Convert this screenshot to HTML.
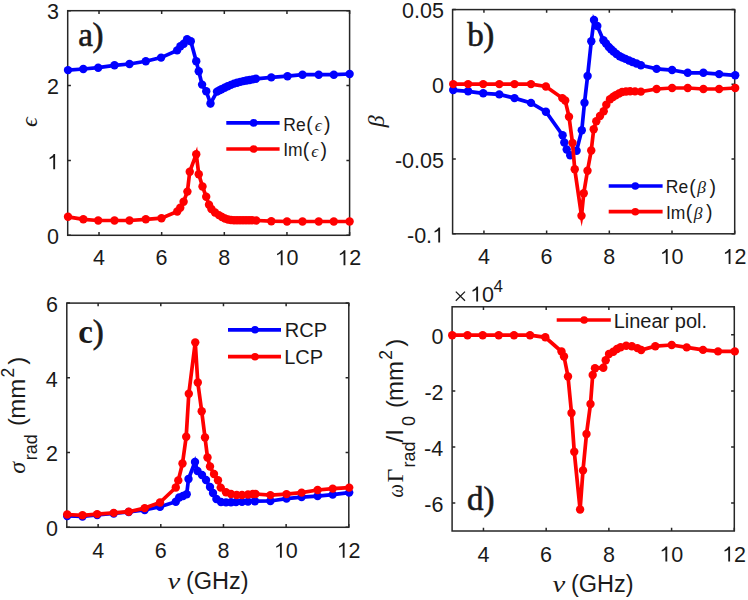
<!DOCTYPE html>
<html><head><meta charset="utf-8"><style>
html,body{margin:0;padding:0;background:#fff;width:748px;height:600px;overflow:hidden}
svg{position:absolute;left:0;top:0}
</style></head><body>
<svg width="748" height="600" viewBox="0 0 748 600">
<rect x="0" y="0" width="748" height="600" fill="#fff"/>
<rect x="67.7" y="10.7" width="281.90" height="224.60" fill="none" stroke="#262626" stroke-width="1.5"/>
<path d="M99.02 235.3V232.10M99.02 10.7V13.90M161.67 235.3V232.10M161.67 10.7V13.90M224.31 235.3V232.10M224.31 10.7V13.90M286.96 235.3V232.10M286.96 10.7V13.90M349.60 235.3V232.10M349.60 10.7V13.90M67.7 235.30H70.90M349.6 235.30H346.40M67.7 160.43H70.90M349.6 160.43H346.40M67.7 85.57H70.90M349.6 85.57H346.40M67.7 10.70H70.90M349.6 10.70H346.40" stroke="#262626" stroke-width="1.5" fill="none"/>
<rect x="452.6" y="9.6" width="282.10" height="224.20" fill="none" stroke="#262626" stroke-width="1.5"/>
<path d="M483.94 233.8V230.60M483.94 9.6V12.80M546.63 233.8V230.60M546.63 9.6V12.80M609.32 233.8V230.60M609.32 9.6V12.80M672.01 233.8V230.60M672.01 9.6V12.80M734.70 233.8V230.60M734.70 9.6V12.80M452.6 9.60H455.80M734.7 9.60H731.50M452.6 84.33H455.80M734.7 84.33H731.50M452.6 159.07H455.80M734.7 159.07H731.50M452.6 233.80H455.80M734.7 233.80H731.50" stroke="#262626" stroke-width="1.5" fill="none"/>
<rect x="66.8" y="303.1" width="282.00" height="224.20" fill="none" stroke="#262626" stroke-width="1.5"/>
<path d="M98.13 527.3V524.10M98.13 303.1V306.30M160.80 527.3V524.10M160.80 303.1V306.30M223.47 527.3V524.10M223.47 303.1V306.30M286.13 527.3V524.10M286.13 303.1V306.30M348.80 527.3V524.10M348.80 303.1V306.30M66.8 527.30H70.00M348.8 527.30H345.60M66.8 452.57H70.00M348.8 452.57H345.60M66.8 377.83H70.00M348.8 377.83H345.60M66.8 303.10H70.00M348.8 303.10H345.60" stroke="#262626" stroke-width="1.5" fill="none"/>
<rect x="452.1" y="306.8" width="282.20" height="224.20" fill="none" stroke="#262626" stroke-width="1.5"/>
<path d="M483.46 531.0V527.80M483.46 306.8V310.00M546.17 531.0V527.80M546.17 306.8V310.00M608.88 531.0V527.80M608.88 306.8V310.00M671.59 531.0V527.80M671.59 306.8V310.00M734.30 531.0V527.80M734.30 306.8V310.00M452.1 334.83H455.30M734.3 334.83H731.10M452.1 390.88H455.30M734.3 390.88H731.10M452.1 446.93H455.30M734.3 446.93H731.10M452.1 502.98H455.30M734.3 502.98H731.10" stroke="#262626" stroke-width="1.5" fill="none"/>
<polyline points="68.00,70.10 83.30,69.00 98.20,67.70 114.50,65.30 129.50,64.00 145.80,61.30 161.10,57.60 177.10,50.40 180.40,46.30 183.75,43.75 187.10,39.20 190.80,41.25 196.25,61.25 198.75,71.25 202.10,84.60 206.25,91.25 210.50,103.50 217.00,91.60 219.30,90.40 221.50,89.20 224.60,87.70 227.70,86.30 230.90,84.90 234.00,83.60 237.10,82.80 240.30,81.90 243.40,81.10 246.50,80.50 249.60,80.00 252.80,79.40 255.90,78.80 271.30,77.40 287.50,76.20 302.50,74.70 318.70,74.70 333.80,74.70 349.60,74.00" fill="none" stroke="#0000ff" stroke-width="3.7" stroke-linejoin="miter" stroke-miterlimit="6"/>
<g fill="#0000ff"><circle cx="68.00" cy="70.10" r="4.2"/><circle cx="83.30" cy="69.00" r="4.2"/><circle cx="98.20" cy="67.70" r="4.2"/><circle cx="114.50" cy="65.30" r="4.2"/><circle cx="129.50" cy="64.00" r="4.2"/><circle cx="145.80" cy="61.30" r="4.2"/><circle cx="161.10" cy="57.60" r="4.2"/><circle cx="177.10" cy="50.40" r="4.2"/><circle cx="180.40" cy="46.30" r="4.2"/><circle cx="183.75" cy="43.75" r="4.2"/><circle cx="187.10" cy="39.20" r="4.2"/><circle cx="190.80" cy="41.25" r="4.2"/><circle cx="196.25" cy="61.25" r="4.2"/><circle cx="198.75" cy="71.25" r="4.2"/><circle cx="202.10" cy="84.60" r="4.2"/><circle cx="206.25" cy="91.25" r="4.2"/><circle cx="210.50" cy="103.50" r="4.2"/><circle cx="217.00" cy="91.60" r="4.2"/><circle cx="219.30" cy="90.40" r="4.2"/><circle cx="221.50" cy="89.20" r="4.2"/><circle cx="224.60" cy="87.70" r="4.2"/><circle cx="227.70" cy="86.30" r="4.2"/><circle cx="230.90" cy="84.90" r="4.2"/><circle cx="234.00" cy="83.60" r="4.2"/><circle cx="237.10" cy="82.80" r="4.2"/><circle cx="240.30" cy="81.90" r="4.2"/><circle cx="243.40" cy="81.10" r="4.2"/><circle cx="246.50" cy="80.50" r="4.2"/><circle cx="249.60" cy="80.00" r="4.2"/><circle cx="252.80" cy="79.40" r="4.2"/><circle cx="255.90" cy="78.80" r="4.2"/><circle cx="271.30" cy="77.40" r="4.2"/><circle cx="287.50" cy="76.20" r="4.2"/><circle cx="302.50" cy="74.70" r="4.2"/><circle cx="318.70" cy="74.70" r="4.2"/><circle cx="333.80" cy="74.70" r="4.2"/><circle cx="349.60" cy="74.00" r="4.2"/></g>
<polyline points="68.00,216.80 83.30,219.30 98.20,220.50 114.50,220.50 129.50,220.50 145.80,219.30 161.50,218.20 177.25,211.50 180.25,207.75 183.60,201.75 187.40,191.60 189.75,171.70 196.25,154.20 198.75,174.20 202.50,186.50 206.20,196.80 209.00,204.80 211.40,209.00 215.00,212.50 218.90,215.10 222.00,217.00 225.00,218.50 228.00,219.50 231.00,220.00 234.00,220.20 237.00,220.30 240.00,220.30 243.00,220.30 246.00,220.30 249.00,220.30 252.00,220.30 256.20,220.50 271.30,221.20 287.00,221.50 302.50,221.50 318.70,221.50 333.80,221.50 349.60,221.50" fill="none" stroke="#ff0000" stroke-width="3.7" stroke-linejoin="miter" stroke-miterlimit="6"/>
<g fill="#ff0000"><circle cx="68.00" cy="216.80" r="4.2"/><circle cx="83.30" cy="219.30" r="4.2"/><circle cx="98.20" cy="220.50" r="4.2"/><circle cx="114.50" cy="220.50" r="4.2"/><circle cx="129.50" cy="220.50" r="4.2"/><circle cx="145.80" cy="219.30" r="4.2"/><circle cx="161.50" cy="218.20" r="4.2"/><circle cx="177.25" cy="211.50" r="4.2"/><circle cx="180.25" cy="207.75" r="4.2"/><circle cx="183.60" cy="201.75" r="4.2"/><circle cx="187.40" cy="191.60" r="4.2"/><circle cx="189.75" cy="171.70" r="4.2"/><circle cx="196.25" cy="154.20" r="4.2"/><circle cx="198.75" cy="174.20" r="4.2"/><circle cx="202.50" cy="186.50" r="4.2"/><circle cx="206.20" cy="196.80" r="4.2"/><circle cx="209.00" cy="204.80" r="4.2"/><circle cx="211.40" cy="209.00" r="4.2"/><circle cx="215.00" cy="212.50" r="4.2"/><circle cx="218.90" cy="215.10" r="4.2"/><circle cx="222.00" cy="217.00" r="4.2"/><circle cx="225.00" cy="218.50" r="4.2"/><circle cx="228.00" cy="219.50" r="4.2"/><circle cx="231.00" cy="220.00" r="4.2"/><circle cx="234.00" cy="220.20" r="4.2"/><circle cx="237.00" cy="220.30" r="4.2"/><circle cx="240.00" cy="220.30" r="4.2"/><circle cx="243.00" cy="220.30" r="4.2"/><circle cx="246.00" cy="220.30" r="4.2"/><circle cx="249.00" cy="220.30" r="4.2"/><circle cx="252.00" cy="220.30" r="4.2"/><circle cx="256.20" cy="220.50" r="4.2"/><circle cx="271.30" cy="221.20" r="4.2"/><circle cx="287.00" cy="221.50" r="4.2"/><circle cx="302.50" cy="221.50" r="4.2"/><circle cx="318.70" cy="221.50" r="4.2"/><circle cx="333.80" cy="221.50" r="4.2"/><circle cx="349.60" cy="221.50" r="4.2"/></g>
<text x="46.88" y="244.00" font-family="Liberation Sans" font-size="21.5" fill="#1a1a1a" >0</text>
<path d="M53.26 169.13L55.11 169.13L55.11 154.08L53.69 154.08L52.47 155.70L50.96 156.84L49.57 157.63L49.57 159.24L51.18 158.56L53.26 157.27Z" fill="#1a1a1a"/>
<text x="47.12" y="94.27" font-family="Liberation Sans" font-size="21.5" fill="#1a1a1a" >2</text>
<text x="46.99" y="19.40" font-family="Liberation Sans" font-size="21.5" fill="#1a1a1a" >3</text>
<text x="93.11" y="265.20" font-family="Liberation Sans" font-size="21.5" fill="#1a1a1a" >4</text>
<text x="155.61" y="265.20" font-family="Liberation Sans" font-size="21.5" fill="#1a1a1a" >6</text>
<text x="218.33" y="265.20" font-family="Liberation Sans" font-size="21.5" fill="#1a1a1a" >8</text>
<path d="M280.77 265.20L282.62 265.20L282.62 250.15L281.20 250.15L279.97 251.76L278.47 252.90L277.07 253.70L277.07 255.31L278.68 254.62L280.77 253.33Z" fill="#1a1a1a"/><text x="286.56" y="265.20" font-family="Liberation Sans" font-size="21.5" fill="#1a1a1a">0</text>
<path d="M343.54 265.20L345.38 265.20L345.38 250.15L343.97 250.15L342.74 251.76L341.23 252.90L339.84 253.70L339.84 255.31L341.45 254.62L343.54 253.33Z" fill="#1a1a1a"/><text x="349.32" y="265.20" font-family="Liberation Sans" font-size="21.5" fill="#1a1a1a">2</text>
<text x="78.24" y="45.60" font-family="Liberation Serif" font-size="33" fill="#1a1a1a" stroke="#1a1a1a" stroke-width="0.6">a</text>
<text x="92.54" y="45.60" font-family="Liberation Serif" font-size="33" fill="#1a1a1a" stroke="#1a1a1a" stroke-width="0.6">)</text>
<g transform="translate(37.2,126.3) rotate(-90)"><text x="-0.71" y="0.00" font-family="Liberation Serif" font-style="italic" font-size="24" fill="#1a1a1a" >ϵ</text></g>
<line x1="226.3" y1="122.9" x2="279.6" y2="122.9" stroke="#0000ff" stroke-width="3.7"/><circle cx="253.6" cy="122.9" r="3.8" fill="#0000ff"/>
<line x1="226.3" y1="149.0" x2="279.6" y2="149.0" stroke="#ff0000" stroke-width="3.7"/><circle cx="253.6" cy="149.0" r="3.8" fill="#ff0000"/>
<text x="283.36" y="130.60" font-family="Liberation Sans" font-size="17.5" fill="#1a1a1a" >Re</text>
<text x="283.19" y="156.30" font-family="Liberation Sans" font-size="17.5" fill="#1a1a1a" >Im</text>
<text x="306.29" y="131.00" font-family="Liberation Sans" font-size="19.5" fill="#1a1a1a" >(</text>
<text x="314.78" y="130.60" font-family="Liberation Serif" font-style="italic" font-size="17.5" fill="#1a1a1a" >ϵ</text>
<text x="323.89" y="131.00" font-family="Liberation Sans" font-size="19.5" fill="#1a1a1a" >)</text>
<text x="302.79" y="157.00" font-family="Liberation Sans" font-size="19.5" fill="#1a1a1a" >(</text>
<text x="311.28" y="156.60" font-family="Liberation Serif" font-style="italic" font-size="17.5" fill="#1a1a1a" >ϵ</text>
<text x="320.39" y="157.00" font-family="Liberation Sans" font-size="19.5" fill="#1a1a1a" >)</text>
<polyline points="453.20,90.05 468.10,91.30 483.20,93.30 499.30,94.40 514.50,98.10 531.00,102.90 545.90,111.70 562.60,135.20 564.30,142.50 566.70,149.50 570.20,155.30 576.60,150.70 581.80,130.25 584.50,102.70 587.60,76.00 591.30,41.30 594.00,20.00 597.30,26.00 603.40,40.30 606.00,43.50 608.80,47.00 611.00,49.30 613.50,51.50 616.50,54.00 619.70,56.20 622.50,57.60 625.50,58.90 629.00,60.50 632.50,62.00 636.50,63.50 640.90,65.20 656.60,68.90 672.10,70.05 687.70,72.80 703.40,72.80 719.10,74.10 735.20,75.30" fill="none" stroke="#0000ff" stroke-width="3.7" stroke-linejoin="miter" stroke-miterlimit="6"/>
<g fill="#0000ff"><circle cx="453.20" cy="90.05" r="4.2"/><circle cx="468.10" cy="91.30" r="4.2"/><circle cx="483.20" cy="93.30" r="4.2"/><circle cx="499.30" cy="94.40" r="4.2"/><circle cx="514.50" cy="98.10" r="4.2"/><circle cx="531.00" cy="102.90" r="4.2"/><circle cx="545.90" cy="111.70" r="4.2"/><circle cx="562.60" cy="135.20" r="4.2"/><circle cx="564.30" cy="142.50" r="4.2"/><circle cx="566.70" cy="149.50" r="4.2"/><circle cx="570.20" cy="155.30" r="4.2"/><circle cx="576.60" cy="150.70" r="4.2"/><circle cx="581.80" cy="130.25" r="4.2"/><circle cx="584.50" cy="102.70" r="4.2"/><circle cx="587.60" cy="76.00" r="4.2"/><circle cx="591.30" cy="41.30" r="4.2"/><circle cx="594.00" cy="20.00" r="4.2"/><circle cx="597.30" cy="26.00" r="4.2"/><circle cx="603.40" cy="40.30" r="4.2"/><circle cx="606.00" cy="43.50" r="4.2"/><circle cx="608.80" cy="47.00" r="4.2"/><circle cx="611.00" cy="49.30" r="4.2"/><circle cx="613.50" cy="51.50" r="4.2"/><circle cx="616.50" cy="54.00" r="4.2"/><circle cx="619.70" cy="56.20" r="4.2"/><circle cx="622.50" cy="57.60" r="4.2"/><circle cx="625.50" cy="58.90" r="4.2"/><circle cx="629.00" cy="60.50" r="4.2"/><circle cx="632.50" cy="62.00" r="4.2"/><circle cx="636.50" cy="63.50" r="4.2"/><circle cx="640.90" cy="65.20" r="4.2"/><circle cx="656.60" cy="68.90" r="4.2"/><circle cx="672.10" cy="70.05" r="4.2"/><circle cx="687.70" cy="72.80" r="4.2"/><circle cx="703.40" cy="72.80" r="4.2"/><circle cx="719.10" cy="74.10" r="4.2"/><circle cx="735.20" cy="75.30" r="4.2"/></g>
<polyline points="453.20,84.10 468.10,84.10 483.20,84.10 499.30,84.10 514.50,84.10 531.00,84.10 545.90,86.50 562.30,98.10 565.20,100.50 569.00,116.70 572.50,143.00 574.75,169.25 581.50,215.75 583.75,193.25 587.50,170.75 591.25,150.50 593.70,129.30 596.30,121.30 600.00,116.00 603.70,111.30 606.30,104.70 610.00,99.20 613.00,97.00 615.70,95.20 619.00,93.50 622.10,92.00 626.00,91.50 630.10,91.20 635.00,91.40 640.90,91.60 656.60,89.00 672.10,88.00 687.70,88.00 703.40,89.00 719.10,89.00 735.20,88.00" fill="none" stroke="#ff0000" stroke-width="3.7" stroke-linejoin="miter" stroke-miterlimit="6"/>
<g fill="#ff0000"><circle cx="453.20" cy="84.10" r="4.2"/><circle cx="468.10" cy="84.10" r="4.2"/><circle cx="483.20" cy="84.10" r="4.2"/><circle cx="499.30" cy="84.10" r="4.2"/><circle cx="514.50" cy="84.10" r="4.2"/><circle cx="531.00" cy="84.10" r="4.2"/><circle cx="545.90" cy="86.50" r="4.2"/><circle cx="562.30" cy="98.10" r="4.2"/><circle cx="565.20" cy="100.50" r="4.2"/><circle cx="569.00" cy="116.70" r="4.2"/><circle cx="572.50" cy="143.00" r="4.2"/><circle cx="574.75" cy="169.25" r="4.2"/><circle cx="581.50" cy="215.75" r="4.2"/><circle cx="583.75" cy="193.25" r="4.2"/><circle cx="587.50" cy="170.75" r="4.2"/><circle cx="591.25" cy="150.50" r="4.2"/><circle cx="593.70" cy="129.30" r="4.2"/><circle cx="596.30" cy="121.30" r="4.2"/><circle cx="600.00" cy="116.00" r="4.2"/><circle cx="603.70" cy="111.30" r="4.2"/><circle cx="606.30" cy="104.70" r="4.2"/><circle cx="610.00" cy="99.20" r="4.2"/><circle cx="613.00" cy="97.00" r="4.2"/><circle cx="615.70" cy="95.20" r="4.2"/><circle cx="619.00" cy="93.50" r="4.2"/><circle cx="622.10" cy="92.00" r="4.2"/><circle cx="626.00" cy="91.50" r="4.2"/><circle cx="630.10" cy="91.20" r="4.2"/><circle cx="635.00" cy="91.40" r="4.2"/><circle cx="640.90" cy="91.60" r="4.2"/><circle cx="656.60" cy="89.00" r="4.2"/><circle cx="672.10" cy="88.00" r="4.2"/><circle cx="687.70" cy="88.00" r="4.2"/><circle cx="703.40" cy="89.00" r="4.2"/><circle cx="719.10" cy="89.00" r="4.2"/><circle cx="735.20" cy="88.00" r="4.2"/></g>
<path d="M579.9 218 L581.7 226.5 L583.2 218 Z" fill="#ff0000"/>
<text x="402.06" y="18.30" font-family="Liberation Sans" font-size="21.5" fill="#1a1a1a" >0.05</text>
<text x="431.88" y="93.03" font-family="Liberation Sans" font-size="21.5" fill="#1a1a1a" >0</text>
<text x="394.90" y="167.77" font-family="Liberation Sans" font-size="21.5" fill="#1a1a1a" >-0.05</text>
<text x="407.00" y="242.50" font-family="Liberation Sans" font-size="21.5" fill="#1a1a1a">-</text><text x="414.16" y="242.50" font-family="Liberation Sans" font-size="21.5" fill="#1a1a1a">0</text><text x="426.12" y="242.50" font-family="Liberation Sans" font-size="21.5" fill="#1a1a1a">.</text><path d="M438.26 242.50L440.11 242.50L440.11 227.45L438.69 227.45L437.47 229.06L435.96 230.20L434.57 231.00L434.57 232.61L436.18 231.92L438.26 230.63Z" fill="#1a1a1a"/>
<text x="478.03" y="264.00" font-family="Liberation Sans" font-size="21.5" fill="#1a1a1a" >4</text>
<text x="540.58" y="264.00" font-family="Liberation Sans" font-size="21.5" fill="#1a1a1a" >6</text>
<text x="603.34" y="264.00" font-family="Liberation Sans" font-size="21.5" fill="#1a1a1a" >8</text>
<path d="M665.83 264.00L667.67 264.00L667.67 248.95L666.26 248.95L665.03 250.56L663.52 251.70L662.13 252.50L662.13 254.11L663.74 253.42L665.83 252.13Z" fill="#1a1a1a"/><text x="671.61" y="264.00" font-family="Liberation Sans" font-size="21.5" fill="#1a1a1a">0</text>
<path d="M728.64 264.00L730.48 264.00L730.48 248.95L729.07 248.95L727.84 250.56L726.33 251.70L724.94 252.50L724.94 254.11L726.55 253.42L728.64 252.13Z" fill="#1a1a1a"/><text x="734.42" y="264.00" font-family="Liberation Sans" font-size="21.5" fill="#1a1a1a">2</text>
<text x="467.20" y="46.30" font-family="Liberation Serif" font-size="33" fill="#1a1a1a" stroke="#1a1a1a" stroke-width="0.6">b</text>
<text x="483.14" y="46.30" font-family="Liberation Serif" font-size="33" fill="#1a1a1a" stroke="#1a1a1a" stroke-width="0.6">)</text>
<g transform="translate(384.2,127.7) rotate(-90)"><text x="0.39" y="0.00" font-family="Liberation Serif" font-style="italic" font-size="24" fill="#1a1a1a" >β</text></g>
<line x1="608.7" y1="186.0" x2="662.6" y2="186.0" stroke="#0000ff" stroke-width="3.7"/><circle cx="635.3" cy="186.0" r="3.8" fill="#0000ff"/>
<line x1="608.7" y1="211.7" x2="662.6" y2="211.7" stroke="#ff0000" stroke-width="3.7"/><circle cx="635.3" cy="211.7" r="3.8" fill="#ff0000"/>
<text x="665.86" y="193.30" font-family="Liberation Sans" font-size="17.5" fill="#1a1a1a" >Re</text>
<text x="665.89" y="218.50" font-family="Liberation Sans" font-size="17.5" fill="#1a1a1a" >Im</text>
<text x="689.19" y="193.80" font-family="Liberation Sans" font-size="19.5" fill="#1a1a1a" >(</text>
<text x="697.18" y="193.30" font-family="Liberation Serif" font-style="italic" font-size="17.5" fill="#1a1a1a" >β</text>
<text x="709.49" y="193.80" font-family="Liberation Sans" font-size="19.5" fill="#1a1a1a" >)</text>
<text x="685.69" y="219.00" font-family="Liberation Sans" font-size="19.5" fill="#1a1a1a" >(</text>
<text x="693.68" y="218.50" font-family="Liberation Serif" font-style="italic" font-size="17.5" fill="#1a1a1a" >β</text>
<text x="705.99" y="219.00" font-family="Liberation Sans" font-size="19.5" fill="#1a1a1a" >)</text>
<polyline points="67.20,516.00 82.50,516.50 97.20,515.00 113.70,513.50 128.70,512.00 144.70,510.00 160.00,506.70 175.80,501.70 179.20,497.50 183.00,496.00 186.70,494.20 188.50,479.00 195.00,462.00 197.50,471.00 202.00,475.00 206.00,480.00 210.00,487.00 213.00,493.00 216.40,499.00 221.00,502.00 226.00,502.40 231.00,502.30 236.00,502.10 242.00,501.90 248.00,501.60 254.90,501.20 270.40,501.00 286.50,498.60 301.60,497.10 317.60,496.10 332.70,494.60 349.20,492.60" fill="none" stroke="#0000ff" stroke-width="3.7" stroke-linejoin="miter" stroke-miterlimit="6"/>
<g fill="#0000ff"><circle cx="67.20" cy="516.00" r="4.2"/><circle cx="82.50" cy="516.50" r="4.2"/><circle cx="97.20" cy="515.00" r="4.2"/><circle cx="113.70" cy="513.50" r="4.2"/><circle cx="128.70" cy="512.00" r="4.2"/><circle cx="144.70" cy="510.00" r="4.2"/><circle cx="160.00" cy="506.70" r="4.2"/><circle cx="175.80" cy="501.70" r="4.2"/><circle cx="179.20" cy="497.50" r="4.2"/><circle cx="183.00" cy="496.00" r="4.2"/><circle cx="186.70" cy="494.20" r="4.2"/><circle cx="188.50" cy="479.00" r="4.2"/><circle cx="195.00" cy="462.00" r="4.2"/><circle cx="197.50" cy="471.00" r="4.2"/><circle cx="202.00" cy="475.00" r="4.2"/><circle cx="206.00" cy="480.00" r="4.2"/><circle cx="210.00" cy="487.00" r="4.2"/><circle cx="213.00" cy="493.00" r="4.2"/><circle cx="216.40" cy="499.00" r="4.2"/><circle cx="221.00" cy="502.00" r="4.2"/><circle cx="226.00" cy="502.40" r="4.2"/><circle cx="231.00" cy="502.30" r="4.2"/><circle cx="236.00" cy="502.10" r="4.2"/><circle cx="242.00" cy="501.90" r="4.2"/><circle cx="248.00" cy="501.60" r="4.2"/><circle cx="254.90" cy="501.20" r="4.2"/><circle cx="270.40" cy="501.00" r="4.2"/><circle cx="286.50" cy="498.60" r="4.2"/><circle cx="301.60" cy="497.10" r="4.2"/><circle cx="317.60" cy="496.10" r="4.2"/><circle cx="332.70" cy="494.60" r="4.2"/><circle cx="349.20" cy="492.60" r="4.2"/></g>
<polyline points="67.20,514.50 82.50,515.30 97.20,514.10 113.70,512.90 128.70,511.70 144.70,508.10 160.00,502.50 175.80,487.50 178.30,480.40 182.50,463.50 186.20,436.70 188.80,393.80 195.25,342.35 197.80,382.50 201.70,411.30 205.00,437.50 207.50,457.50 210.00,466.50 214.00,474.00 218.00,480.20 220.70,487.60 226.00,492.20 231.00,494.00 236.70,495.00 242.00,495.00 248.00,494.50 252.80,494.00 255.50,494.00 270.40,495.10 286.50,494.10 301.60,492.60 317.60,490.00 332.70,488.60 349.20,487.60" fill="none" stroke="#ff0000" stroke-width="3.7" stroke-linejoin="miter" stroke-miterlimit="6"/>
<g fill="#ff0000"><circle cx="67.20" cy="514.50" r="4.2"/><circle cx="82.50" cy="515.30" r="4.2"/><circle cx="97.20" cy="514.10" r="4.2"/><circle cx="113.70" cy="512.90" r="4.2"/><circle cx="128.70" cy="511.70" r="4.2"/><circle cx="144.70" cy="508.10" r="4.2"/><circle cx="160.00" cy="502.50" r="4.2"/><circle cx="175.80" cy="487.50" r="4.2"/><circle cx="178.30" cy="480.40" r="4.2"/><circle cx="182.50" cy="463.50" r="4.2"/><circle cx="186.20" cy="436.70" r="4.2"/><circle cx="188.80" cy="393.80" r="4.2"/><circle cx="195.25" cy="342.35" r="4.2"/><circle cx="197.80" cy="382.50" r="4.2"/><circle cx="201.70" cy="411.30" r="4.2"/><circle cx="205.00" cy="437.50" r="4.2"/><circle cx="207.50" cy="457.50" r="4.2"/><circle cx="210.00" cy="466.50" r="4.2"/><circle cx="214.00" cy="474.00" r="4.2"/><circle cx="218.00" cy="480.20" r="4.2"/><circle cx="220.70" cy="487.60" r="4.2"/><circle cx="226.00" cy="492.20" r="4.2"/><circle cx="231.00" cy="494.00" r="4.2"/><circle cx="236.70" cy="495.00" r="4.2"/><circle cx="242.00" cy="495.00" r="4.2"/><circle cx="248.00" cy="494.50" r="4.2"/><circle cx="252.80" cy="494.00" r="4.2"/><circle cx="255.50" cy="494.00" r="4.2"/><circle cx="270.40" cy="495.10" r="4.2"/><circle cx="286.50" cy="494.10" r="4.2"/><circle cx="301.60" cy="492.60" r="4.2"/><circle cx="317.60" cy="490.00" r="4.2"/><circle cx="332.70" cy="488.60" r="4.2"/><circle cx="349.20" cy="487.60" r="4.2"/></g>
<text x="45.88" y="536.00" font-family="Liberation Sans" font-size="21.5" fill="#1a1a1a" >0</text>
<text x="46.12" y="461.27" font-family="Liberation Sans" font-size="21.5" fill="#1a1a1a" >2</text>
<text x="45.67" y="386.53" font-family="Liberation Sans" font-size="21.5" fill="#1a1a1a" >4</text>
<text x="45.99" y="311.80" font-family="Liberation Sans" font-size="21.5" fill="#1a1a1a" >6</text>
<text x="92.22" y="557.70" font-family="Liberation Sans" font-size="21.5" fill="#1a1a1a" >4</text>
<text x="154.75" y="557.70" font-family="Liberation Sans" font-size="21.5" fill="#1a1a1a" >6</text>
<text x="217.49" y="557.70" font-family="Liberation Sans" font-size="21.5" fill="#1a1a1a" >8</text>
<path d="M279.95 557.70L281.80 557.70L281.80 542.65L280.38 542.65L279.15 544.26L277.65 545.40L276.25 546.20L276.25 547.81L277.86 547.12L279.95 545.83Z" fill="#1a1a1a"/><text x="285.73" y="557.70" font-family="Liberation Sans" font-size="21.5" fill="#1a1a1a">0</text>
<path d="M342.74 557.70L344.58 557.70L344.58 542.65L343.17 542.65L341.94 544.26L340.43 545.40L339.04 546.20L339.04 547.81L340.65 547.12L342.74 545.83Z" fill="#1a1a1a"/><text x="348.52" y="557.70" font-family="Liberation Sans" font-size="21.5" fill="#1a1a1a">2</text>
<text x="78.27" y="342.50" font-family="Liberation Serif" font-weight="bold" font-size="33" fill="#1a1a1a" >c</text>
<text x="92.84" y="342.50" font-family="Liberation Serif" font-size="33" fill="#1a1a1a" stroke="#1a1a1a" stroke-width="0.6">)</text>
<line x1="228" y1="329.8" x2="281" y2="329.8" stroke="#0000ff" stroke-width="3.7"/><circle cx="255" cy="329.8" r="3.8" fill="#0000ff"/>
<line x1="228" y1="356.7" x2="281" y2="356.7" stroke="#ff0000" stroke-width="3.7"/><circle cx="255" cy="356.7" r="3.8" fill="#ff0000"/>
<text x="284.76" y="337.30" font-family="Liberation Sans" font-size="20" fill="#1a1a1a" >RCP</text>
<text x="284.16" y="364.00" font-family="Liberation Sans" font-size="20" fill="#1a1a1a" >LCP</text>
<text transform="translate(168.00,588.70) scale(1.22,1)" x="-0.32" y="0" font-family="Liberation Serif" font-style="italic" font-size="23.5" fill="#1a1a1a">ν</text>
<text x="185.94" y="588.70" font-family="Liberation Sans" font-size="23.5" fill="#1a1a1a" >(GHz)</text>
<text transform="translate(553.00,592.40) scale(1.22,1)" x="-0.32" y="0" font-family="Liberation Serif" font-style="italic" font-size="23.5" fill="#1a1a1a">ν</text>
<text x="570.94" y="592.40" font-family="Liberation Sans" font-size="23.5" fill="#1a1a1a" >(GHz)</text>
<g transform="translate(25.3,473.5) rotate(-90)"><text x="-0.21" y="0.00" font-family="Liberation Serif" font-style="italic" font-size="24" fill="#1a1a1a" >σ</text><text x="13.30" y="12.00" font-family="Liberation Sans" font-size="18" fill="#1a1a1a" >rad</text><text x="47.51" y="0.00" font-family="Liberation Sans" font-size="24" fill="#1a1a1a" >(</text><text x="54.71" y="0.00" font-family="Liberation Sans" font-size="24" fill="#1a1a1a" >mm</text><text x="96.12" y="-11.20" font-family="Liberation Sans" font-size="17.5" fill="#1a1a1a" >2</text><text x="108.86" y="0.00" font-family="Liberation Sans" font-size="24" fill="#1a1a1a" >)</text></g>
<polyline points="452.20,335.20 467.50,335.20 482.70,335.20 498.70,335.20 514.00,335.20 530.00,335.20 545.30,337.30 561.50,351.50 564.00,356.50 568.00,376.50 571.50,413.00 574.25,451.75 580.10,509.50 583.00,470.40 586.50,434.00 590.50,404.00 592.70,375.00 595.00,368.30 603.30,367.70 605.70,360.30 609.00,354.00 613.30,351.70 617.00,349.00 620.60,347.20 626.20,345.80 631.80,346.20 637.40,348.10 641.20,350.00 655.30,346.20 671.70,345.00 686.70,347.40 703.00,349.90 718.00,351.40 734.80,351.40" fill="none" stroke="#ff0000" stroke-width="3.7" stroke-linejoin="miter" stroke-miterlimit="6"/>
<g fill="#ff0000"><circle cx="452.20" cy="335.20" r="4.2"/><circle cx="467.50" cy="335.20" r="4.2"/><circle cx="482.70" cy="335.20" r="4.2"/><circle cx="498.70" cy="335.20" r="4.2"/><circle cx="514.00" cy="335.20" r="4.2"/><circle cx="530.00" cy="335.20" r="4.2"/><circle cx="545.30" cy="337.30" r="4.2"/><circle cx="561.50" cy="351.50" r="4.2"/><circle cx="564.00" cy="356.50" r="4.2"/><circle cx="568.00" cy="376.50" r="4.2"/><circle cx="571.50" cy="413.00" r="4.2"/><circle cx="574.25" cy="451.75" r="4.2"/><circle cx="580.10" cy="509.50" r="4.2"/><circle cx="583.00" cy="470.40" r="4.2"/><circle cx="586.50" cy="434.00" r="4.2"/><circle cx="590.50" cy="404.00" r="4.2"/><circle cx="592.70" cy="375.00" r="4.2"/><circle cx="595.00" cy="368.30" r="4.2"/><circle cx="603.30" cy="367.70" r="4.2"/><circle cx="605.70" cy="360.30" r="4.2"/><circle cx="609.00" cy="354.00" r="4.2"/><circle cx="613.30" cy="351.70" r="4.2"/><circle cx="617.00" cy="349.00" r="4.2"/><circle cx="620.60" cy="347.20" r="4.2"/><circle cx="626.20" cy="345.80" r="4.2"/><circle cx="631.80" cy="346.20" r="4.2"/><circle cx="637.40" cy="348.10" r="4.2"/><circle cx="641.20" cy="350.00" r="4.2"/><circle cx="655.30" cy="346.20" r="4.2"/><circle cx="671.70" cy="345.00" r="4.2"/><circle cx="686.70" cy="347.40" r="4.2"/><circle cx="703.00" cy="349.90" r="4.2"/><circle cx="718.00" cy="351.40" r="4.2"/><circle cx="734.80" cy="351.40" r="4.2"/></g>
<text x="431.38" y="343.53" font-family="Liberation Sans" font-size="21.5" fill="#1a1a1a" >0</text>
<text x="424.46" y="399.57" font-family="Liberation Sans" font-size="21.5" fill="#1a1a1a" >-2</text>
<text x="424.01" y="455.62" font-family="Liberation Sans" font-size="21.5" fill="#1a1a1a" >-4</text>
<text x="424.33" y="511.68" font-family="Liberation Sans" font-size="21.5" fill="#1a1a1a" >-6</text>
<text x="477.55" y="561.50" font-family="Liberation Sans" font-size="21.5" fill="#1a1a1a" >4</text>
<text x="540.11" y="561.50" font-family="Liberation Sans" font-size="21.5" fill="#1a1a1a" >6</text>
<text x="602.90" y="561.50" font-family="Liberation Sans" font-size="21.5" fill="#1a1a1a" >8</text>
<path d="M665.40 561.50L667.25 561.50L667.25 546.45L665.83 546.45L664.61 548.06L663.10 549.20L661.71 550.00L661.71 551.61L663.32 550.92L665.40 549.63Z" fill="#1a1a1a"/><text x="671.19" y="561.50" font-family="Liberation Sans" font-size="21.5" fill="#1a1a1a">0</text>
<path d="M728.24 561.50L730.08 561.50L730.08 546.45L728.67 546.45L727.44 548.06L725.93 549.20L724.54 550.00L724.54 551.61L726.15 550.92L728.24 549.63Z" fill="#1a1a1a"/><text x="734.02" y="561.50" font-family="Liberation Sans" font-size="21.5" fill="#1a1a1a">2</text>
<text x="467.01" y="509.60" font-family="Liberation Serif" font-size="33" fill="#1a1a1a" stroke="#1a1a1a" stroke-width="0.6">d</text>
<text x="483.44" y="509.60" font-family="Liberation Serif" font-size="33" fill="#1a1a1a" stroke="#1a1a1a" stroke-width="0.6">)</text>
<line x1="556.7" y1="320.0" x2="610.8" y2="320.0" stroke="#ff0000" stroke-width="3.7"/><circle cx="584.1" cy="320.0" r="3.8" fill="#ff0000"/>
<text x="613.66" y="327.80" font-family="Liberation Sans" font-size="20" fill="#1a1a1a" >Linear pol.</text>
<path d="M455.8 291.6L465.0 300.8M465.0 291.6L455.8 300.8" stroke="#1a1a1a" stroke-width="1.25" fill="none"/>
<path d="M476.23 301.60L478.08 301.60L478.08 286.55L476.66 286.55L475.44 288.16L473.93 289.30L472.53 290.10L472.53 291.71L474.15 291.02L476.23 289.73Z" fill="#1a1a1a"/><text x="482.02" y="301.60" font-family="Liberation Sans" font-size="21.5" fill="#1a1a1a">0</text>
<text x="493.41" y="291.80" font-family="Liberation Sans" font-size="17" fill="#1a1a1a" >4</text>
<g transform="translate(403.2,496.8) rotate(-90)"><text x="-0.80" y="0.00" font-family="Liberation Serif" font-style="italic" font-size="24" fill="#1a1a1a" textLength="13.3" lengthAdjust="spacingAndGlyphs">ω</text><text x="14.31" y="0.00" font-family="Liberation Serif" font-size="24" fill="#1a1a1a" >Γ</text><text x="29.30" y="12.00" font-family="Liberation Sans" font-size="18" fill="#1a1a1a" >rad</text><text x="54.30" y="0.00" font-family="Liberation Sans" font-size="24" fill="#1a1a1a" >/I</text><text x="70.80" y="11.70" font-family="Liberation Sans" font-size="18" fill="#1a1a1a" >0</text><text x="88.71" y="0.00" font-family="Liberation Sans" font-size="24" fill="#1a1a1a" >(</text><text x="95.91" y="0.00" font-family="Liberation Sans" font-size="24" fill="#1a1a1a" >mm</text><text x="137.12" y="-11.00" font-family="Liberation Sans" font-size="17.5" fill="#1a1a1a" >2</text><text x="150.06" y="0.00" font-family="Liberation Sans" font-size="24" fill="#1a1a1a" >)</text></g>
</svg></body></html>
